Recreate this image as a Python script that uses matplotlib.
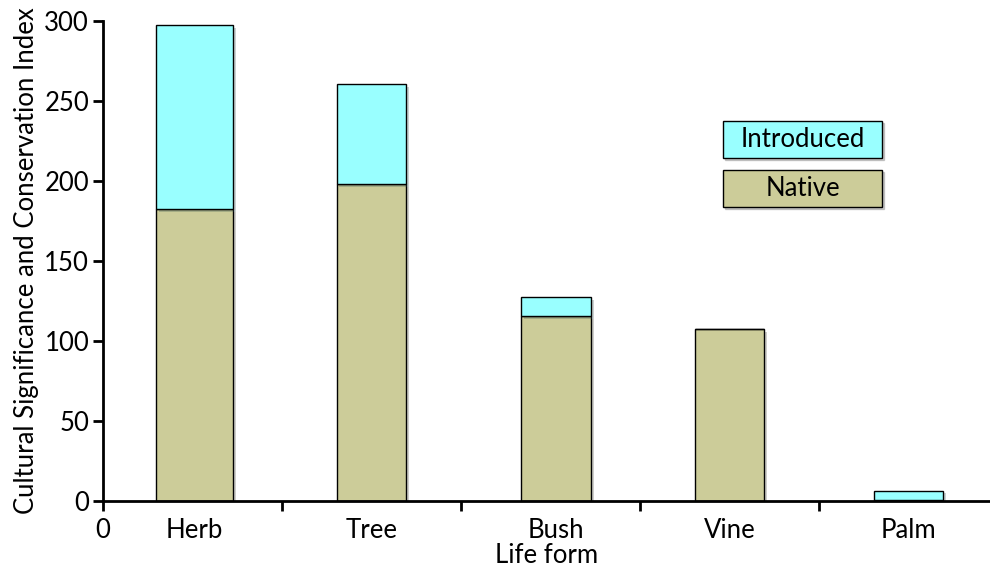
# stacked bar chart - cultural significance by life form
import matplotlib.pyplot as plt
import matplotlib.patheffects as pe
from matplotlib.patches import Rectangle

# data
life_forms = ["Herb", "Tree", "Bush", "Vine", "Palm"]
native = [182.5, 198, 115.5, 107.5, 0.5]
introduced = [115, 62.5, 12, 0, 6]

plt.rcParams['font.family'] = ['Lato', 'DejaVu Sans']

native_color = '#CCCC99'
intro_color = '#99FFFF'
fs = 18.5

fig = plt.figure(figsize=(9.9, 5.69), dpi=100)
ax = fig.add_axes([103 / 990, 1 - 501 / 569, 1 - 103 / 990, 480 / 569])

positions = [0.51, 1.5, 2.53, 3.5, 4.5]
widths = [0.43, 0.39, 0.39, 0.39, 0.39]
shadow = [pe.SimplePatchShadow(offset=(2, -2), alpha=0.25), pe.Normal()]

b1 = ax.bar(positions, native, width=widths, color=native_color,
            edgecolor='black', linewidth=1)
b2 = ax.bar(positions, introduced, width=widths, bottom=native, color=intro_color,
            edgecolor='black', linewidth=1)
for bar in list(b1) + list(b2):
    bar.set_path_effects(shadow)

ax.set_xlim(0, 887 / 179)
ax.set_ylim(0, 300)

# axis styling
for side in ['top', 'right']:
    ax.spines[side].set_visible(False)
ax.spines['left'].set_linewidth(2)
ax.spines['bottom'].set_linewidth(2)

ax.set_yticks([0, 50, 100, 150, 200, 250, 300])
ax.tick_params(axis='y', direction='out', length=7, width=2, labelsize=fs, pad=3)

# major ticks as marks, category names on minor ticks
ax.set_xticks([0, 1, 2, 3, 4])
ax.set_xticklabels(["0", "", "", "", ""])
ax.set_xticks(positions, minor=True)
ax.set_xticklabels(life_forms, minor=True)
ax.tick_params(axis='x', which='major', direction='out', length=7, width=2,
               labelsize=fs, pad=5)
ax.tick_params(axis='x', which='minor', length=0, labelsize=fs, pad=12)

ax.set_xlabel("Life form", fontsize=fs, labelpad=0)
ax.set_ylabel("Cultural Significance and Conservation Index", fontsize=fs, labelpad=4)

# legend boxes drawn by hand to look like the original
legend_items = [("Introduced", intro_color, 121), ("Native", native_color, 170)]
for label, col, top in legend_items:
    x0 = 723 / 990
    w = 159 / 990
    h = 37 / 569
    y0 = 1 - (top + 37) / 569
    fig.patches.append(Rectangle((x0 + 2 / 990, y0 - 2 / 569), w, h,
                                 transform=fig.transFigure, color='#999999',
                                 alpha=0.5, zorder=4))
    fig.patches.append(Rectangle((x0, y0), w, h, transform=fig.transFigure,
                                 facecolor=col, edgecolor='black', linewidth=1,
                                 zorder=5))
    fig.text(x0 + w / 2, y0 + h / 2, label, ha='center', va='center',
             fontsize=fs, zorder=6)

fig.savefig("out.png", dpi=100)
